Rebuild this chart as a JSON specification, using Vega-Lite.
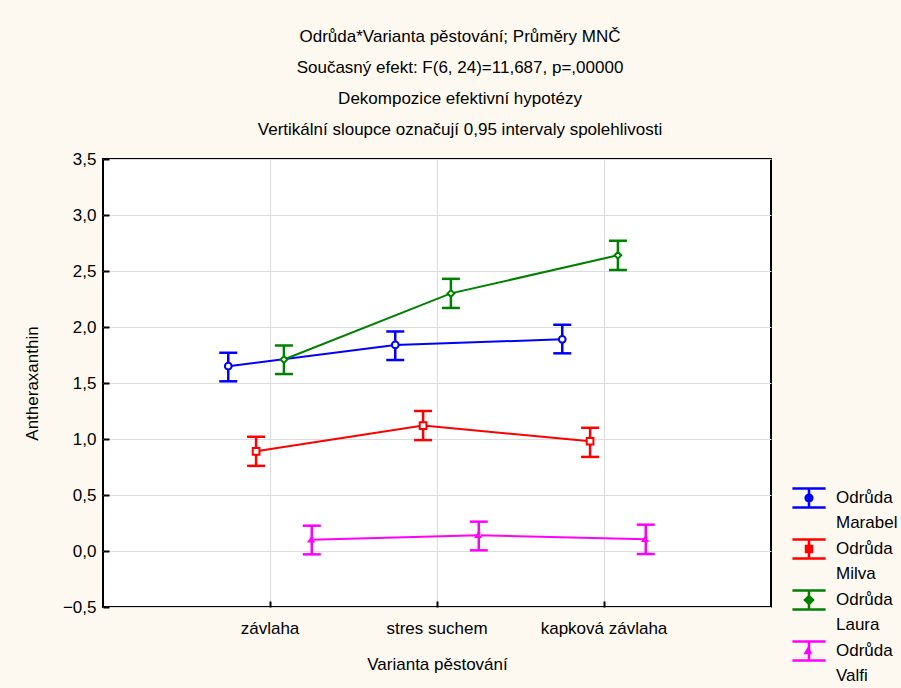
{
  "$schema": "https://vega.github.io/schema/vega-lite/v6.json",
  "width": 668,
  "height": 448,
  "autosize": {"type": "none"},
  "padding": {"left": 103, "top": 159, "right": 130, "bottom": 81},
  "background": "#fdf9f0",
  "title": {
    "text": ["Odrůda*Varianta pěstování; Průměry MNČ", "Současný efekt: F(6, 24)=11,687, p=,00000", "Dekompozice efektivní hypotézy", "Vertikální sloupce označují 0,95 intervaly spolehlivosti"],
    "anchor": "middle",
    "frame": "group",
    "dx": 23,
    "offset": 11,
    "lineHeight": 31,
    "font": "Liberation Sans",
    "fontSize": 17,
    "fontWeight": "normal",
    "color": "#000000"
  },
  "data": {
    "values": [
      {"varianta": "závlaha", "odruda": "Marabel", "mean": 1.65, "lower": 1.515, "upper": 1.77},
      {"varianta": "stres suchem", "odruda": "Marabel", "mean": 1.84, "lower": 1.705, "upper": 1.96},
      {"varianta": "kapková závlaha", "odruda": "Marabel", "mean": 1.89, "lower": 1.765, "upper": 2.02},
      {"varianta": "závlaha", "odruda": "Milva", "mean": 0.89, "lower": 0.76, "upper": 1.02},
      {"varianta": "stres suchem", "odruda": "Milva", "mean": 1.12, "lower": 0.99, "upper": 1.25},
      {"varianta": "kapková závlaha", "odruda": "Milva", "mean": 0.98, "lower": 0.84, "upper": 1.10},
      {"varianta": "závlaha", "odruda": "Laura", "mean": 1.71, "lower": 1.58, "upper": 1.835},
      {"varianta": "stres suchem", "odruda": "Laura", "mean": 2.30, "lower": 2.17, "upper": 2.43},
      {"varianta": "kapková závlaha", "odruda": "Laura", "mean": 2.64, "lower": 2.51, "upper": 2.77},
      {"varianta": "závlaha", "odruda": "Valfi", "mean": 0.10, "lower": -0.03, "upper": 0.226},
      {"varianta": "stres suchem", "odruda": "Valfi", "mean": 0.14, "lower": 0.006, "upper": 0.262},
      {"varianta": "kapková závlaha", "odruda": "Valfi", "mean": 0.105, "lower": -0.027, "upper": 0.235}
    ]
  },
  "encoding": {
    "x": {
      "field": "varianta",
      "type": "nominal",
      "sort": ["závlaha", "stres suchem", "kapková závlaha"],
      "scale": {"paddingInner": 0, "paddingOuter": 0.5},
      "axis": {
        "title": "Varianta pěstování",
        "labelAngle": 0,
        "bandPosition": 0.5,
        "grid": true,
        "domain": false,
        "tickSize": -6,
        "tickColor": "#000000",
        "tickWidth": 2,
        "labelPadding": 19,
        "titlePadding": 20
      }
    },
    "xOffset": {
      "field": "odruda",
      "type": "nominal",
      "sort": ["Marabel", "Milva", "Laura", "Valfi"],
      "scale": {"type": "band", "paddingInner": 0, "paddingOuter": 1.35}
    },
    "y": {
      "field": "mean",
      "type": "quantitative",
      "scale": {"domain": [-0.5, 3.5], "nice": false, "zero": false},
      "axis": {
        "title": "Antheraxanthin",
        "values": [-0.5, 0, 0.5, 1, 1.5, 2, 2.5, 3, 3.5],
        "labelExpr": "replace(format(datum.value, '.1f'), '.', ',')",
        "domain": false,
        "tickSize": -6,
        "tickColor": "#000000",
        "tickWidth": 2,
        "labelPadding": 13,
        "titlePadding": 21
      }
    },
    "stroke": {
      "field": "odruda",
      "type": "nominal",
      "sort": ["Marabel", "Milva", "Laura", "Valfi"],
      "scale": {"domain": ["Marabel", "Milva", "Laura", "Valfi"], "range": ["#0000ff", "#ff0000", "#008000", "#ff00ff"]},
      "legend": {
        "title": null,
        "orient": "none",
        "legendX": 688,
        "legendY": 321,
        "labelExpr": "['Odrůda', datum.label]",
        "symbolSize": 1100,
        "symbolStrokeWidth": 2.5,
        "symbolOpacity": 1,
        "labelOffset": 9,
        "labelFontSize": 17,
        "labelFont": "Liberation Sans",
        "labelColor": "#000000",
        "rowPadding": 0,
        "encode": {"labels": {"update": {"lineHeight": {"value": 25}}}}
      }
    }
  },
  "layer": [
    {
      "mark": {"type": "point", "filled": false, "size": 0, "strokeWidth": 2.5, "opacity": 1},
      "encoding": {
        "shape": {
          "field": "odruda",
          "type": "nominal",
          "sort": ["Marabel", "Milva", "Laura", "Valfi"],
          "scale": {"domain": ["Marabel", "Milva", "Laura", "Valfi"], "range": [
            "M-1,-0.58H1M-1,0.58H1M0,-0.58V0.58M0.2,0A0.2,0.2 0 1,1 -0.2,0A0.2,0.2 0 1,1 0.2,0",
            "M-1,-0.58H1M-1,0.58H1M0,-0.58V0.58M-0.18,-0.18H0.18V0.18H-0.18Z",
            "M-1,-0.58H1M-1,0.58H1M0,-0.58V0.58M0,-0.24L0.24,0L0,0.24L-0.24,0Z",
            "M-1,-0.58H1M-1,0.58H1M0,-0.58V0.58M0,-0.24L-0.2,0.12H0.15"
          ]},
          "legend": {
            "title": null,
            "orient": "none",
            "legendX": 688,
            "legendY": 321,
            "labelExpr": "['Odrůda', datum.label]",
            "symbolSize": 1100,
            "symbolStrokeWidth": 2.5,
            "symbolOpacity": 1,
            "labelOffset": 9,
            "labelFontSize": 17,
            "labelFont": "Liberation Sans",
            "labelColor": "#000000",
            "rowPadding": 0,
            "encode": {"labels": {"update": {"lineHeight": {"value": 25}}}}
          }
        }
      }
    },
    {
      "mark": {"type": "line", "strokeWidth": 2}
    },
    {
      "mark": {"type": "rule", "strokeWidth": 2.5},
      "encoding": {"y": {"field": "lower", "type": "quantitative"}, "y2": {"field": "upper"}}
    },
    {
      "mark": {"type": "tick", "size": 18, "thickness": 2.5, "opacity": 1},
      "encoding": {
        "y": {"field": "lower", "type": "quantitative"},
        "stroke": {"value": null},
        "color": {"field": "odruda", "type": "nominal", "scale": {"domain": ["Marabel", "Milva", "Laura", "Valfi"], "range": ["#0000ff", "#ff0000", "#008000", "#ff00ff"]}, "legend": null}
      }
    },
    {
      "mark": {"type": "tick", "size": 18, "thickness": 2.5, "opacity": 1},
      "encoding": {
        "y": {"field": "upper", "type": "quantitative"},
        "stroke": {"value": null},
        "color": {"field": "odruda", "type": "nominal", "scale": {"domain": ["Marabel", "Milva", "Laura", "Valfi"], "range": ["#0000ff", "#ff0000", "#008000", "#ff00ff"]}, "legend": null}
      }
    },
    {
      "transform": [{"filter": {"field": "odruda", "equal": "Marabel"}}],
      "mark": {"type": "point", "shape": "circle", "filled": false, "fill": "white", "strokeWidth": 2, "size": 45, "opacity": 1}
    },
    {
      "transform": [{"filter": {"field": "odruda", "equal": "Milva"}}],
      "mark": {"type": "point", "shape": "square", "filled": false, "fill": "white", "strokeWidth": 2, "size": 45, "opacity": 1}
    },
    {
      "transform": [{"filter": {"field": "odruda", "equal": "Laura"}}],
      "mark": {"type": "point", "shape": "diamond", "filled": false, "fill": "white", "strokeWidth": 2, "size": 45, "opacity": 1}
    },
    {
      "transform": [{"filter": {"field": "odruda", "equal": "Valfi"}}],
      "mark": {"type": "point", "shape": "M0.15,-0.9L-0.75,0.45H0.75M0.15,-0.9V0.9", "filled": false, "fill": "white", "strokeWidth": 2, "size": 60, "opacity": 1}
    }
  ],
  "resolve": {"scale": {"y": "shared"}},
  "config": {
    "view": {"stroke": "#000000", "strokeWidth": 2, "fill": "#ffffff"},
    "axis": {
      "labelFont": "Liberation Sans",
      "labelFontSize": 17,
      "labelColor": "#000000",
      "titleFont": "Liberation Sans",
      "titleFontSize": 17,
      "titleFontWeight": "normal",
      "titleColor": "#000000",
      "gridColor": "#dcdcdc",
      "gridWidth": 1
    }
  }
}
